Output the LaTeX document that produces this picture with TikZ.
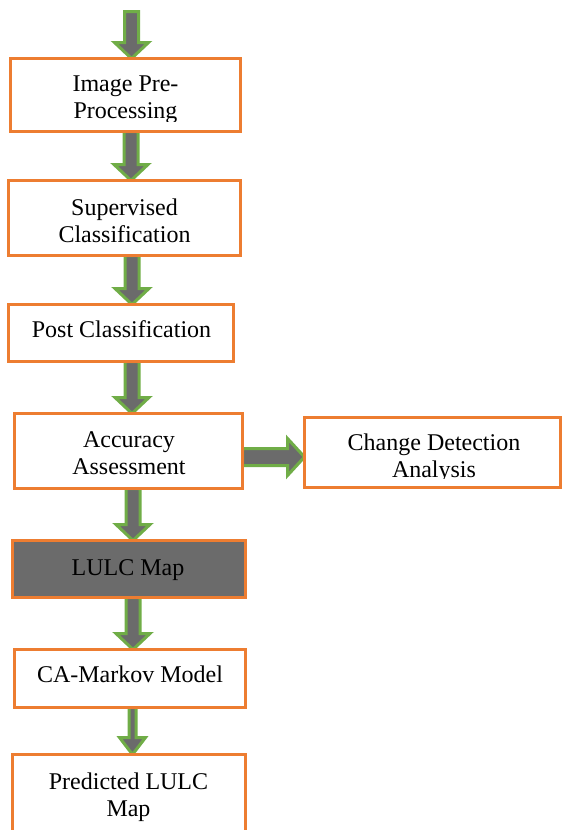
\documentclass[tikz,border=0pt]{standalone}
\usepackage{fontspec}
\setmainfont{Liberation Serif}
\usetikzlibrary{calc,backgrounds}

\definecolor{boxorange}{HTML}{ED7D31}
\definecolor{arrowgreen}{HTML}{70AD47}
\definecolor{arrowgray}{HTML}{6B6B6B}

\tikzset{
  stage/.style={draw=boxorange, line width=3pt, fill=white, rectangle,
                inner sep=0pt, outer sep=0pt},
  darkstage/.style={stage, fill=arrowgray},
  stagetext/.style={font=\fontsize{24}{27}\selectfont, align=center,
                    inner sep=0pt, anchor=base},
  blockarrow/.style={draw=arrowgreen, fill=arrowgray, line width=3pt,
                     line join=miter},
}

% block arrow pointing down: #1 start, #2 tip, #3 x centre (pt),
% #4 half shaft width, #5 half head width, #6 head length
\newcommand\blockdown[6]{%
  \path[blockarrow] let \p1=(#1), \p2=(#2) in
    ({#3pt-#4pt},\y1) -- ({#3pt-#4pt},{\y2+#6pt}) -- ({#3pt-#5pt},{\y2+#6pt})
    -- (#3pt,\y2) -- ({#3pt+#5pt},{\y2+#6pt}) -- ({#3pt+#4pt},{\y2+#6pt})
    -- ({#3pt+#4pt},\y1) -- cycle;}

% block arrow pointing right: #1 start, #2 tip, #3 y centre (pt, upward),
% #4 half shaft width, #5 half head width, #6 head length
\newcommand\blockright[6]{%
  \path[blockarrow] let \p1=(#1), \p2=(#2) in
    (\x1,{#3pt+#4pt}) -- ({\x2-#6pt},{#3pt+#4pt}) -- ({\x2-#6pt},{#3pt+#5pt})
    -- (\x2,#3pt) -- ({\x2-#6pt},{#3pt-#5pt}) -- ({\x2-#6pt},{#3pt-#4pt})
    -- (\x1,{#3pt-#4pt}) -- cycle;}

\begin{document}
\begin{tikzpicture}[x=1pt,y=-1pt]
  \clip (0,0) rectangle (563,830);

  % process boxes
  \node[stage, minimum width=230pt, minimum height=73pt] (b1) at (125.5,95) {};
  \node[stage, minimum width=232pt, minimum height=75pt] (b2) at (124.5,218) {};
  \node[stage, minimum width=225pt, minimum height=57pt] (b3) at (121,333) {};
  \node[stage, minimum width=228pt, minimum height=75pt] (b4) at (128.5,451) {};
  \node[stage, minimum width=256pt, minimum height=70pt] (b5) at (432.5,452.5) {};
  \node[darkstage, minimum width=233pt, minimum height=57pt] (b6) at (129,569) {};
  \node[stage, minimum width=231pt, minimum height=58pt] (b7) at (130,678.5) {};
  \node[stage, minimum width=233pt, minimum height=84pt] (b8) at (129,796.5) {};

  % box texts (base = baseline of the last line)
  \begin{scope}
    \clip (0,0) rectangle (563,121);
    \node[stagetext] (t1) at (125.5,118) {Image Pre-\\Processing};
  \end{scope}
  \node[stagetext] (t2) at (124.5,242) {Supervised\\Classification};
  \node[stagetext] (t3) at (121.5,337) {Post Classification};
  \node[stagetext] (t4) at (129,474) {Accuracy\\Assessment};
  \begin{scope}
    \clip (0,0) rectangle (563,478);
    \node[stagetext] (t5) at (434,477) {Change Detection\\Analysis};
  \end{scope}
  \node[stagetext] (t6) at (128,575) {LULC Map};
  \node[stagetext] (t7) at (130,682) {CA-Markov Model};
  \node[stagetext] (t8) at (128.5,816) {Predicted LULC\\Map};

  \coordinate (in) at (131.5,11.5);

  % flow arrows, behind the boxes
  \begin{scope}[on background layer]
    \blockdown{in}{b1.north}{131.5}{7}{17}{16}
    \blockdown{b1.south}{b2.north}{131}{7}{17}{16}
    \blockdown{b2.south}{b3.north}{132}{7}{17}{16}
    \blockdown{b3.south}{b4.north}{132}{7}{17}{16}
    \blockdown{b4.south}{b6.north}{133}{7}{17}{16}
    \blockdown{b6.south}{b7.north}{133}{7}{17}{16}
    \blockdown{b7.south}{b8.north}{132.5}{3.5}{13}{17}
    \blockright{b4.east}{b5.west}{-457}{8.5}{18.5}{17}
  \end{scope}
\end{tikzpicture}
\end{document}
